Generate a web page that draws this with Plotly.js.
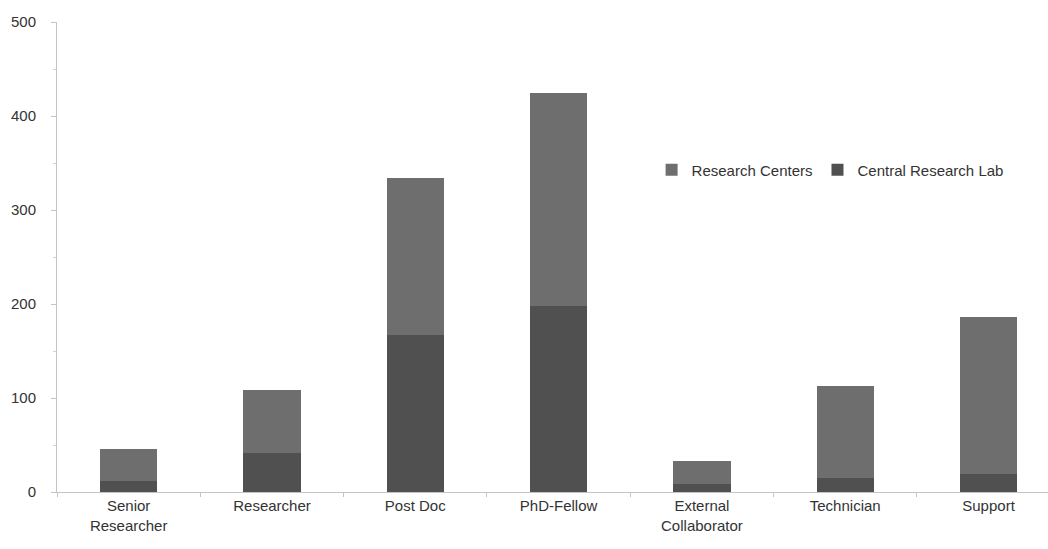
<!DOCTYPE html>
<html>
<head>
<meta charset="utf-8">
<script src="https://cdn.plot.ly/plotly-3.0.1.min.js"></script>
<style>html,body{margin:0;padding:0;background:#fff;}#chart{width:1048px;height:549px;}</style>
</head>
<body>
<div id="chart"></div>
<script>
var categories = ["Senior<br>Researcher", "Researcher", "Post Doc", "PhD-Fellow", "External<br>Collaborator", "Technician", "Support"];
var centralResearchLab = [12, 42, 167, 198, 8, 15, 19];
var totals = [46, 109, 334, 424, 33, 113, 186];
var researchCenters = totals.map(function (t, i) { return t - centralResearchLab[i]; });
var yTicks = [0, 100, 200, 300, 400, 500];

var fontFam = "'Liberation Sans', Arial, sans-serif";

var traces = [
  {type: "bar", name: "Central Research Lab", x: categories, y: centralResearchLab,
   marker: {color: "#505050", line: {width: 0}}, width: 0.4},
  {type: "bar", name: "Research Centers", x: categories, y: researchCenters,
   marker: {color: "#6e6e6e", line: {width: 0}}, width: 0.4}
];

var layout = {
  width: 1048, height: 549,
  margin: {l: 57, r: 0, t: 22, b: 57},
  barmode: "stack",
  paper_bgcolor: "#fff", plot_bgcolor: "#fff",
  font: {family: fontFam, size: 15, color: "#333"},
  showlegend: true,
  legend: {orientation: "h", x: 0.6, y: 0.685, xanchor: "left", yanchor: "middle",
    traceorder: "reversed", font: {family: fontFam, size: 15, color: "#333"},
    itemwidth: 30, bgcolor: "rgba(0,0,0,0)"},
  xaxis: {type: "category", range: [-0.5, 6.415], showgrid: false, showline: true,
    linecolor: "#c4c4c4", linewidth: 1, ticks: "outside", tickson: "boundaries",
    ticklen: 4, tickcolor: "#c4c4c4", zeroline: false, fixedrange: true,
    tickfont: {family: fontFam, size: 15, color: "#333"}},
  yaxis: {range: [0, 500], tickvals: yTicks, showgrid: false, showline: true,
    linecolor: "#c4c4c4", linewidth: 1, ticks: "outside", ticklen: 5, tickcolor: "#c4c4c4",
    zeroline: false, ticklabelstandoff: 12,
    minor: {dtick: 50, ticks: "outside", ticklen: 3, tickcolor: "#d0d0d0"},
    tickfont: {family: fontFam, size: 15, color: "#333"}}
};

Plotly.newPlot("chart", traces, layout, {displayModeBar: false, staticPlot: true});
</script>
</body>
</html>
